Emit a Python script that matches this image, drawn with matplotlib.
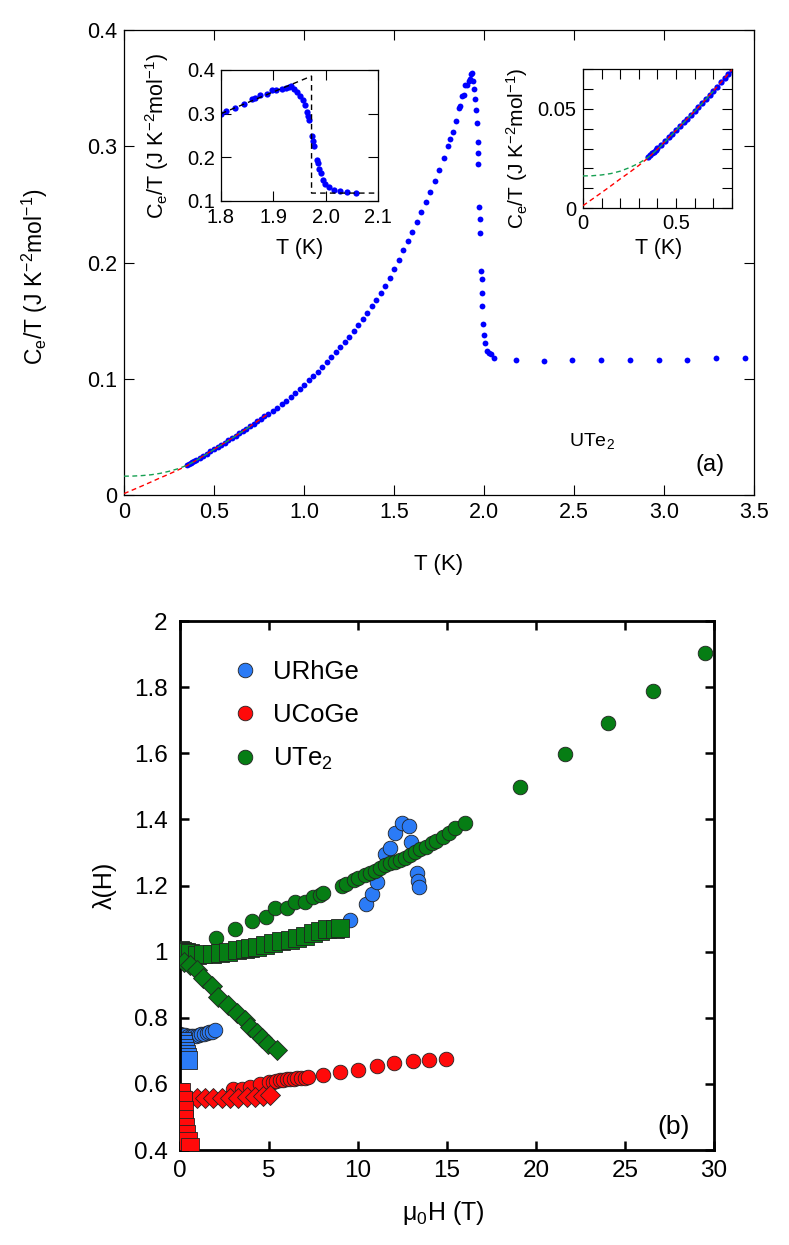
import matplotlib
matplotlib.use("Agg")
import matplotlib.pyplot as plt
from matplotlib.ticker import MultipleLocator

plt.rcParams['font.family'] = ['Liberation Sans', 'DejaVu Sans']
plt.rcParams['mathtext.fontset'] = 'custom'
plt.rcParams['mathtext.rm'] = 'Liberation Sans'
plt.rcParams['mathtext.it'] = 'Liberation Sans:italic'
plt.rcParams['mathtext.default'] = 'regular'

# ---------------- Data: panel (a) ----------------
T_low = [0.35, 0.36, 0.37, 0.38, 0.39, 0.40, 0.42, 0.44, 0.46, 0.48, 0.50, 0.52, 0.54,
         0.56, 0.58, 0.60, 0.62, 0.64, 0.66, 0.68, 0.70, 0.72, 0.74, 0.76, 0.78, 0.80]
C_low = [0.0258, 0.0268, 0.0276, 0.0285, 0.0293, 0.0302, 0.0320, 0.0338, 0.0357, 0.0376,
         0.0394, 0.0413, 0.0432, 0.0451, 0.0470, 0.0489, 0.0509, 0.0530, 0.0550, 0.0570,
         0.0591, 0.0612, 0.0634, 0.0655, 0.0676, 0.0698]
T_mid = [0.825, 0.85, 0.875, 0.90, 0.925, 0.95, 0.975, 1.00, 1.025, 1.05, 1.075, 1.10,
         1.125, 1.15, 1.175, 1.20, 1.225, 1.25, 1.275, 1.30, 1.325, 1.35, 1.375, 1.40,
         1.425, 1.45, 1.475, 1.50, 1.525, 1.55, 1.575, 1.60, 1.625, 1.65, 1.675, 1.70,
         1.725, 1.75, 1.775, 1.80]
C_mid = [0.0720, 0.0750, 0.0780, 0.0810, 0.0845, 0.0880, 0.0915, 0.0950, 0.0987, 0.1024,
         0.1062, 0.1100, 0.1142, 0.1184, 0.1226, 0.1270, 0.1316, 0.1362, 0.1410, 0.1460,
         0.1512, 0.1566, 0.1622, 0.1680, 0.1740, 0.1802, 0.1870, 0.1945, 0.2025, 0.2105,
         0.2185, 0.2265, 0.2350, 0.2435, 0.2520, 0.2605, 0.2700, 0.2795, 0.2895, 0.3000]
T_peak = [1.81, 1.827, 1.844, 1.859, 1.865, 1.875, 1.887, 1.897, 1.906, 1.916, 1.924, 1.929,
          1.933, 1.939, 1.945, 1.951, 1.956, 1.961, 1.965, 1.967, 1.969, 1.974, 1.976, 1.978,
          1.983, 1.986, 1.988, 1.991, 1.995, 1.999, 2.006, 2.015, 2.028, 2.041, 2.057]
C_peak = [0.306, 0.312, 0.322, 0.333, 0.335, 0.343, 0.344, 0.353, 0.353, 0.356, 0.358, 0.362,
          0.363, 0.356, 0.349, 0.341, 0.331, 0.320, 0.304, 0.294, 0.285, 0.248, 0.237, 0.225,
          0.193, 0.186, 0.174, 0.163, 0.147, 0.138, 0.131, 0.124, 0.122, 0.121, 0.118]
T_flat = [2.18, 2.335, 2.49, 2.65, 2.81, 2.97, 3.13, 3.29, 3.45]
C_flat = [0.116, 0.1155, 0.1158, 0.1162, 0.1162, 0.1162, 0.1162, 0.1175, 0.1178]

# dashed extrapolations
T_red = [0, 0.05, 0.1, 0.15, 0.2, 0.25, 0.3, 0.35, 0.4, 0.45, 0.5, 0.55, 0.6, 0.65, 0.7, 0.75, 0.8]
C_red = [0.0012, 0.0045, 0.0078, 0.0112, 0.0147, 0.0180, 0.0215, 0.0253, 0.0297, 0.0345,
         0.0393, 0.0441, 0.0489, 0.0539, 0.0591, 0.0644, 0.0698]
T_green = [0, 0.05, 0.1, 0.15, 0.2, 0.25, 0.3, 0.35, 0.4, 0.45, 0.5, 0.55, 0.6, 0.65, 0.7]
C_green = [0.0162, 0.0163, 0.0167, 0.0174, 0.0186, 0.0204, 0.0226, 0.0256, 0.0296, 0.0343,
           0.0392, 0.0440, 0.0488, 0.0538, 0.0590]
T_idealized = [1.8, 1.973, 1.973, 2.1]
C_idealized = [0.30, 0.386, 0.118, 0.118]

T_all = T_low + T_mid + T_peak + T_flat
C_all = C_low + C_mid + C_peak + C_flat

a_xticks = [0, 0.5, 1.0, 1.5, 2.0, 2.5, 3.0, 3.5]
a_xticklabels = ['0', '0.5', '1.0', '1.5', '2.0', '2.5', '3.0', '3.5']
a_yticks = [0, 0.1, 0.2, 0.3, 0.4]
a_yticklabels = ['0', '0.1', '0.2', '0.3', '0.4']
i1_xticks = [1.8, 1.9, 2.0, 2.1]
i1_xticklabels = ['1.8', '1.9', '2.0', '2.1']
i1_yticks = [0.1, 0.2, 0.3, 0.4]
i1_yticklabels = ['0.1', '0.2', '0.3', '0.4']
i2_xticks = [0, 0.5]
i2_xticklabels = ['0', '0.5']
i2_yticks = [0, 0.05]
i2_yticklabels = ['0', '0.05']

# ---------------- Data: panel (b) ----------------
urhge_circ_H = [0.0, 0.15, 0.3, 0.45, 0.6, 0.75, 0.9, 1.05, 1.2, 1.35, 1.5, 1.65, 1.8, 1.95,
                9.55, 10.45, 10.77, 11.05, 11.5, 11.8, 12.1, 12.5, 12.85, 13.0, 13.3, 13.4, 13.45]
urhge_circ_L = [0.75, 0.748, 0.747, 0.746, 0.745, 0.745, 0.746, 0.748, 0.75, 0.752, 0.754, 0.756,
                0.758, 0.762,
                1.097, 1.143, 1.174, 1.212, 1.296, 1.312, 1.36, 1.388, 1.38, 1.333, 1.237, 1.215, 1.195]
urhge_sq_H = [0.1, 0.18, 0.25, 0.3, 0.35, 0.4, 0.45]
urhge_sq_L = [0.73, 0.72, 0.71, 0.70, 0.69, 0.68, 0.672]

ucoge_circ_H = [3.0, 3.5, 3.95, 4.5, 5.0, 5.2, 5.4, 5.6, 5.8, 6.0, 6.2, 6.4, 6.55, 6.8, 7.0, 7.2,
                8.05, 9.0, 10.0, 11.05, 12.05, 13.1, 14.0, 14.95]
ucoge_circ_L = [0.584, 0.585, 0.59, 0.60, 0.605, 0.607, 0.61, 0.611, 0.613, 0.614, 0.616, 0.616,
                0.617, 0.618, 0.619, 0.621, 0.626, 0.636, 0.643, 0.655, 0.664, 0.669, 0.672, 0.676]
ucoge_dia_H = [0.0, 0.2, 0.47, 0.94, 1.4, 1.87, 2.34, 2.81, 3.28, 3.75, 4.21, 4.68, 5.06]
ucoge_dia_L = [0.565, 0.56, 0.558, 0.557, 0.557, 0.558, 0.558, 0.557, 0.558, 0.559, 0.561,
               0.563, 0.566]
ucoge_sq_H = [0.05, 0.15, 0.2, 0.25, 0.3, 0.35, 0.45, 0.55]
ucoge_sq_L = [0.575, 0.55, 0.52, 0.495, 0.47, 0.448, 0.428, 0.41]

ute2_circ_H = [0.2, 2.05, 3.1, 4.05, 4.85, 5.35, 6.0, 6.45, 7.0, 7.5, 7.85, 8.05, 9.1, 9.35,
               9.75, 10.0, 10.4, 10.7, 10.95, 11.25, 11.5, 11.8, 12.1, 12.35, 12.65, 12.9, 13.2,
               13.5, 13.85, 14.15, 14.4, 14.8, 15.1, 15.45, 16.0, 19.1, 21.65, 24.05, 26.6, 29.5]
ute2_circ_L = [0.99, 1.04, 1.069, 1.093, 1.106, 1.131, 1.131, 1.149, 1.151, 1.166, 1.172, 1.178,
               1.20, 1.205, 1.216, 1.222, 1.232, 1.237, 1.245, 1.252, 1.262, 1.267, 1.272, 1.277,
               1.282, 1.292, 1.302, 1.31, 1.317, 1.328, 1.336, 1.348, 1.358, 1.373, 1.39,
               1.497, 1.598, 1.69, 1.789, 1.902]
ute2_sq_H = [0.0, 0.1, 0.2, 0.35, 0.55, 0.95, 1.3, 1.8, 2.25, 2.7, 3.2, 3.65, 3.95, 4.3, 4.8,
             5.25, 5.7, 6.2, 6.55, 7.0, 7.5, 7.85, 8.25, 8.7, 9.0]
ute2_sq_L = [1.005, 1.002, 1.0, 0.998, 0.995, 0.99, 0.992, 0.993, 0.996, 0.999, 1.005, 1.007,
             1.01, 1.015, 1.02, 1.025, 1.033, 1.036, 1.041, 1.048, 1.056, 1.062, 1.067, 1.069, 1.072]
ute2_dia_H = [0.2, 0.55, 0.95, 1.3, 1.8, 2.15, 2.7, 3.2, 3.65, 3.95, 4.3, 4.6, 4.95, 5.45]
ute2_dia_L = [0.97, 0.96, 0.943, 0.92, 0.895, 0.864, 0.839, 0.814, 0.794, 0.773, 0.753, 0.738,
              0.722, 0.702]

b_xticks = [0, 5, 10, 15, 20, 25, 30]
b_xticklabels = ['0', '5', '10', '15', '20', '25', '30']
b_yticks = [0.4, 0.6, 0.8, 1.0, 1.2, 1.4, 1.6, 1.8, 2.0]
b_yticklabels = ['0.4', '0.6', '0.8', '1', '1.2', '1.4', '1.6', '1.8', '2']

labels_b = ['URhGe', 'UCoGe', r'$\mathregular{UTe_2}$']
col_blue = '#2b7bf6'
col_red = '#ff0a0a'
col_green = '#067d14'
col_dashgreen = '#17a052'

# ---------------- Figure ----------------
fig = plt.figure(figsize=(7.89, 12.45), dpi=100)

def style(ax, fs, pad_x, pad_y, lw, tl, tw):
    ax.tick_params(which='both', direction='in', top=True, right=True,
                   length=tl, width=tw, labelsize=fs)
    ax.tick_params(axis='x', which='both', pad=pad_x)
    ax.tick_params(axis='y', which='both', pad=pad_y)
    for s in ax.spines.values():
        s.set_linewidth(lw)

ylab_a = r'$\mathregular{C_e/T\ (J\ K^{-2}mol^{-1})}$'

# panel (a) main
axa = fig.add_axes([0.1572, 0.6024, 0.7985, 0.3735])
axa.plot(T_red, C_red, ls=(0, (3.5, 2.5)), color='red', lw=1.0, zorder=3)
axa.plot(T_green, C_green, ls=(0, (3.5, 2.5)), color=col_dashgreen, lw=1.0, zorder=3)
axa.plot(T_all, C_all, 'o', color='#0000ff', ms=4.2, mew=0, zorder=2)
axa.set_xlim(0, 3.5)
axa.set_ylim(0, 0.4)
axa.set_xticks(a_xticks)
axa.set_xticklabels(a_xticklabels)
axa.set_yticks(a_yticks)
axa.set_yticklabels(a_yticklabels)
style(axa, 15.5, 5, 5, 0.9, 7.5, 0.8)
axa.set_xlabel('T (K)', fontsize=16, va='center', ha='center')
axa.xaxis.set_label_coords(0.5, -0.15)
axa.set_ylabel(ylab_a, fontsize=16.5, va='center', ha='center')
axa.yaxis.set_label_coords(-0.141, 0.47)
axa.text(2.6, 0.0465, r'$\mathregular{UTe_2}$', fontsize=14, ha='center', va='center')
axa.text(3.256, 0.0258, '(a)', fontsize=17, ha='center', va='center')

# inset 1 (transition)
ax1 = fig.add_axes([0.2801, 0.8386, 0.1990, 0.1052])
ax1.plot(T_idealized, C_idealized, ls=(0, (4, 3)), color='black', lw=1.0, zorder=3)
ax1.plot(T_all, C_all, 'o', color='#0000ff', ms=4.5, mew=0, zorder=2)
ax1.set_xlim(1.8, 2.1)
ax1.set_ylim(0.1, 0.4)
ax1.set_xticks(i1_xticks)
ax1.set_xticklabels(i1_xticklabels)
ax1.set_yticks(i1_yticks)
ax1.set_yticklabels(i1_yticklabels)
style(ax1, 14.5, 5, 4, 0.9, 7.5, 0.8)
ax1.set_xlabel('T (K)', fontsize=15.5, va='center', ha='center')
ax1.xaxis.set_label_coords(0.5, -0.36)
ax1.set_ylabel(ylab_a, fontsize=15.5, va='center', ha='center')
ax1.yaxis.set_label_coords(-0.41, 0.5)

# inset 2 (low T)
ax2 = fig.add_axes([0.7389, 0.8329, 0.1888, 0.1116])
ax2.plot(T_red, C_red, ls=(0, (3.5, 2.5)), color='red', lw=1.0, zorder=3)
ax2.plot(T_green, C_green, ls=(0, (3.5, 2.5)), color=col_dashgreen, lw=1.0, zorder=3)
ax2.plot(T_all, C_all, 'o', color='#0000ff', ms=4.5, mew=0, zorder=2)
ax2.set_xlim(0, 0.8)
ax2.set_ylim(0, 0.0701)
ax2.set_xticks(i2_xticks)
ax2.set_xticklabels(i2_xticklabels)
ax2.set_yticks(i2_yticks)
ax2.set_yticklabels(i2_yticklabels)
ax2.xaxis.set_minor_locator(MultipleLocator(0.1))
ax2.yaxis.set_minor_locator(MultipleLocator(0.01))
style(ax2, 14.5, 4, 5, 0.9, 7.5, 0.8)
ax2.set_xlabel('T (K)', fontsize=15.5, va='center', ha='center')
ax2.xaxis.set_label_coords(0.51, -0.29)
ax2.set_ylabel(ylab_a, fontsize=15, va='center', ha='center')
ax2.yaxis.set_label_coords(-0.44, 0.43)

# panel (b)
axb = fig.add_axes([0.2281, 0.0763, 0.6768, 0.4249])
mk = dict(ls='none', mec='#222222', mew=0.6)
axb.plot(urhge_circ_H, urhge_circ_L, 'o', color=col_blue, ms=10.5, label=labels_b[0], zorder=2, **mk)
axb.plot(urhge_sq_H, urhge_sq_L, 's', color=col_blue, ms=13, zorder=2, **mk)
axb.plot(ucoge_circ_H, ucoge_circ_L, 'o', color=col_red, ms=10.5, label=labels_b[1], zorder=3, **mk)
axb.plot(ucoge_dia_H, ucoge_dia_L, 'D', color=col_red, ms=10, zorder=3, **mk)
axb.plot(ucoge_sq_H, ucoge_sq_L, 's', color=col_red, ms=13, zorder=3, **mk)
axb.plot(ute2_circ_H, ute2_circ_L, 'o', color=col_green, ms=10.5, label=labels_b[2], zorder=4, **mk)
axb.plot(ute2_sq_H, ute2_sq_L, 's', color=col_green, ms=13, zorder=4, **mk)
axb.plot(ute2_dia_H, ute2_dia_L, 'D', color=col_green, ms=10, zorder=4, **mk)
axb.set_xlim(0, 30)
axb.set_ylim(0.4, 2.0)
axb.set_xticks(b_xticks)
axb.set_xticklabels(b_xticklabels)
axb.set_yticks(b_yticks)
axb.set_yticklabels(b_yticklabels)
style(axb, 17.5, 7, 9, 2.0, 6.5, 1.8)
axb.set_xlabel(r'$\mathregular{μ_0H\ (T)}$', fontsize=18, va='center', ha='center')
axb.xaxis.set_label_coords(0.494, -0.119)
axb.set_ylabel('λ(H)', fontsize=18, va='center', ha='center')
axb.yaxis.set_label_coords(-0.14, 0.5)
axb.text(27.75, 0.47, '(b)', fontsize=19, ha='center', va='center')
axb.legend(loc='upper left', bbox_to_anchor=(0.097, 0.927), frameon=False, fontsize=18.5,
           borderaxespad=0, borderpad=0, handlelength=1.0, handletextpad=0.6,
           labelspacing=0.75, numpoints=1)

fig.savefig('out.png', dpi=100)
